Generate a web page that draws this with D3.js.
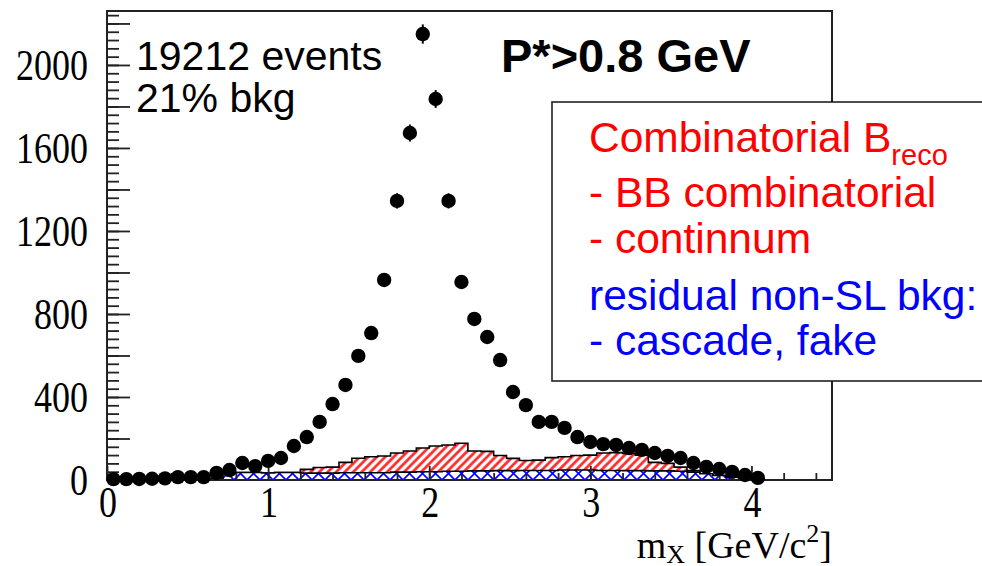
<!DOCTYPE html>
<html>
<head>
<meta charset="utf-8">
<script src="https://cdn.jsdelivr.net/npm/d3@7"></script>
<style>
	html, body { margin: 0; padding: 0; background: #fff; }
	svg { display: block; }
</style>
</head>
<body>
<script>
"use strict";

//histogram binning (GeV/c^2)
const binLow = 0;
const binWidth = 0.08;

//data points, events per bin
const dataCounts = [4, 4, 5, 6, 8, 14, 14, 14, 34, 48, 82, 67, 92, 106, 164, 207, 280, 366, 458, 598,
	708, 964, 1345, 1672, 2149, 1836, 1345, 954, 776, 689, 578, 424, 361, 280, 280, 251, 207, 183, 173, 169,
	154, 145, 130, 116, 106, 82, 63, 53, 39, 24, 10];

//residual non-SL background (blue)
const residualCounts = [0, 0, 0, 0, 1, 1, 2, 3, 5, 30, 36, 36, 34, 36, 36, 33, 33, 33, 35, 35,
	35, 35, 38, 38, 40, 40, 42, 42, 44, 44, 45, 45, 46, 46, 46, 48, 48, 48, 46, 46,
	45, 45, 44, 44, 42, 38, 30, 22, 14, 8, 3];

//combinatorial Breco background (red), stacked on the residual
const combinatorialCounts = [0, 0, 0, 0, 0, 0, 0, 0, 0, 0, 0, 0, 0, 0, 0, 18, 27, 29, 50, 70,
	77, 81, 92, 102, 114, 124, 127, 135, 96, 94, 73, 59, 48, 50, 62, 64, 70, 72, 84, 86,
	83, 75, 41, 36, 20, 7, 0, 0, 0, 0, 0];

const xTickLabels = ["0", "1", "2", "3", "4"];
const yTickLabels = ["0", "400", "800", "1200", "1600", "2000"];

const infoLines = ["19212 events", "21% bkg"];
const cutLabel = "P*>0.8 GeV";
const legendLines = [
	{ text: "Combinatorial B", sub: "reco", color: "#ff0000" },
	{ text: "- BB combinatorial", color: "#ff0000" },
	{ text: "- continnum", color: "#ff0000" },
	{ text: "residual non-SL bkg:", color: "#0000ff" },
	{ text: "- cascade, fake", color: "#0000ff" }
];

(function()
{
	let width = 982, height = 566;
	let left = 107, right = 832, top = 11, bottom = 480;

	let x = d3.scaleLinear().domain([0, 4.5]).range([left, right]);
	let y = d3.scaleLinear().domain([0, 2260]).range([bottom, top]);

	let svg = d3.select("body").append("svg")
		.attr("width", width)
		.attr("height", height);
	svg.append("rect")
		.attr("width", width)
		.attr("height", height)
		.attr("fill", "white");

	//hatch patterns
	let defs = svg.append("defs");
	let red_hatch = defs.append("pattern")
		.attr("id", "redHatch")
		.attr("patternUnits", "userSpaceOnUse")
		.attr("width", 6)
		.attr("height", 6)
		.attr("patternTransform", "rotate(45)");
	red_hatch.append("rect").attr("width", 6).attr("height", 6).attr("fill", "white");
	red_hatch.append("line")
		.attr("x1", 1.5).attr("y1", 0).attr("x2", 1.5).attr("y2", 6)
		.attr("stroke", "#ff2020").attr("stroke-width", 2.6);
	let blue_hatch = defs.append("pattern")
		.attr("id", "blueHatch")
		.attr("patternUnits", "userSpaceOnUse")
		.attr("x", 0)
		.attr("y", bottom)
		.attr("width", 13)
		.attr("height", 13);
	blue_hatch.append("rect").attr("width", 13).attr("height", 13).attr("fill", "white");
	blue_hatch.append("path")
		.attr("d", "M0,0L13,13M13,0L0,13")
		.attr("stroke", "#0000ff").attr("stroke-width", 1.6);

	//bins -> step points (edge, value), closing with the last edge
	function step_points(counts)
	{
		let pts = counts.map(function(v, i) { return [binLow + i * binWidth, v]; });
		pts.push([binLow + counts.length * binWidth, counts[counts.length - 1]]);
		return pts;
	}
	let totalCounts = residualCounts.map(function(v, i) { return v + combinatorialCounts[i]; });

	let area_func = d3.area()
		.curve(d3.curveStepAfter)
		.x(function(d) { return x(d[0]); })
		.y0(y(0))
		.y1(function(d) { return y(d[1]); });
	let line_func = d3.line()
		.curve(d3.curveStepAfter)
		.x(function(d) { return x(d[0]); })
		.y(function(d) { return y(d[1]); });

	let hist = svg.append("g");
	hist.append("path")
		.attr("d", area_func(step_points(totalCounts)))
		.attr("fill", "url(#redHatch)");
	hist.append("path")
		.attr("d", line_func(step_points(totalCounts)))
		.attr("fill", "none").attr("stroke", "black").attr("stroke-width", 1.6);
	hist.append("path")
		.attr("d", area_func(step_points(residualCounts)))
		.attr("fill", "url(#blueHatch)");
	hist.append("path")
		.attr("d", line_func(step_points(residualCounts)))
		.attr("fill", "none").attr("stroke", "black").attr("stroke-width", 1.6);

	//frame
	svg.append("rect")
		.attr("x", left).attr("y", top)
		.attr("width", right - left).attr("height", bottom - top)
		.attr("fill", "none").attr("stroke", "#222").attr("stroke-width", 2);

	//axis ticks
	function add_axis(axis)
	{
		let g = svg.append("g").call(axis);
		g.select(".domain").remove();
		g.selectAll(".tick line").attr("stroke", "#222").attr("stroke-width", 1.8);
		return g;
	}
	add_axis(d3.axisRight(y).tickValues(d3.range(0, 2260, 40)).tickSize(12).tickFormat(""))
		.attr("transform", "translate(" + left + ",0)");
	add_axis(d3.axisRight(y).tickValues(d3.range(0, 2260, 200)).tickSize(23).tickFormat(""))
		.attr("transform", "translate(" + left + ",0)");
	add_axis(d3.axisTop(x).tickValues(d3.range(0, 4.5, 0.2)).tickSize(7).tickFormat(""))
		.attr("transform", "translate(0," + bottom + ")");
	add_axis(d3.axisTop(x).tickValues(d3.range(0, 5, 1)).tickSize(14).tickFormat(""))
		.attr("transform", "translate(0," + bottom + ")");

	//tick labels, narrow serif
	let labels = svg.append("g")
		.attr("font-family", "'Liberation Serif', 'DejaVu Serif', serif")
		.attr("font-size", 45)
		.attr("fill", "black");
	for (let t of yTickLabels)
	{
		labels.append("text")
			.attr("transform", "translate(88," + (y(+t) + 15) + ") scale(0.8,1)")
			.attr("text-anchor", "end")
			.text(t);
	}
	for (let t of xTickLabels)
	{
		labels.append("text")
			.attr("transform", "translate(" + (x(+t) + 1) + ",517) scale(0.8,1)")
			.attr("text-anchor", "middle")
			.text(t);
	}

	//x axis title
	let title = svg.append("text")
		.attr("x", 832).attr("y", 558)
		.attr("text-anchor", "end")
		.attr("font-family", "'Liberation Serif', 'DejaVu Serif', serif")
		.attr("font-size", 38)
		.attr("fill", "black");
	title.append("tspan").text("m");
	title.append("tspan").attr("dy", 5).attr("font-size", 26).text("X");
	title.append("tspan").attr("dy", -5).text(" [GeV/c");
	title.append("tspan").attr("dy", -16).attr("font-size", 26).text("2");
	title.append("tspan").attr("dy", 16).text("]");

	//data points with error bars
	let points = svg.append("g");
	dataCounts.forEach(function(v, i)
	{
		let cx = x(binLow + (i + 0.5) * binWidth);
		let err = Math.sqrt(v);
		points.append("line")
			.attr("x1", cx).attr("x2", cx)
			.attr("y1", y(v - err)).attr("y2", y(v + err))
			.attr("stroke", "black").attr("stroke-width", 2);
		points.append("circle")
			.attr("cx", cx).attr("cy", y(v))
			.attr("r", 7.2)
			.attr("fill", "black");
	});

	//annotation texts
	let info = svg.append("g")
		.attr("font-family", "'Liberation Sans', Arial, sans-serif")
		.attr("font-size", 41)
		.attr("fill", "black");
	infoLines.forEach(function(t, i)
	{
		info.append("text").attr("x", 136).attr("y", 70 + i * 42).text(t);
	});
	svg.append("text")
		.attr("x", 501).attr("y", 72)
		.attr("font-family", "'Liberation Sans', Arial, sans-serif")
		.attr("font-size", 47)
		.attr("font-weight", "bold")
		.attr("fill", "black")
		.text(cutLabel);

	//legend box
	svg.append("rect")
		.attr("x", 552).attr("y", 102)
		.attr("width", 440).attr("height", 279)
		.attr("fill", "white").attr("stroke", "#222").attr("stroke-width", 1.6);
	let legendBaselines = [152, 207, 253, 310, 355];
	let legend = svg.append("g")
		.attr("font-family", "'Liberation Sans', Arial, sans-serif")
		.attr("font-size", 42.5);
	legendLines.forEach(function(l, i)
	{
		let t = legend.append("text")
			.attr("x", 589).attr("y", legendBaselines[i])
			.attr("fill", l.color);
		t.append("tspan").text(l.text);
		if (l.sub) t.append("tspan").attr("dy", 13).attr("font-size", 29).text(l.sub);
	});
})();
</script>
</body>
</html>
